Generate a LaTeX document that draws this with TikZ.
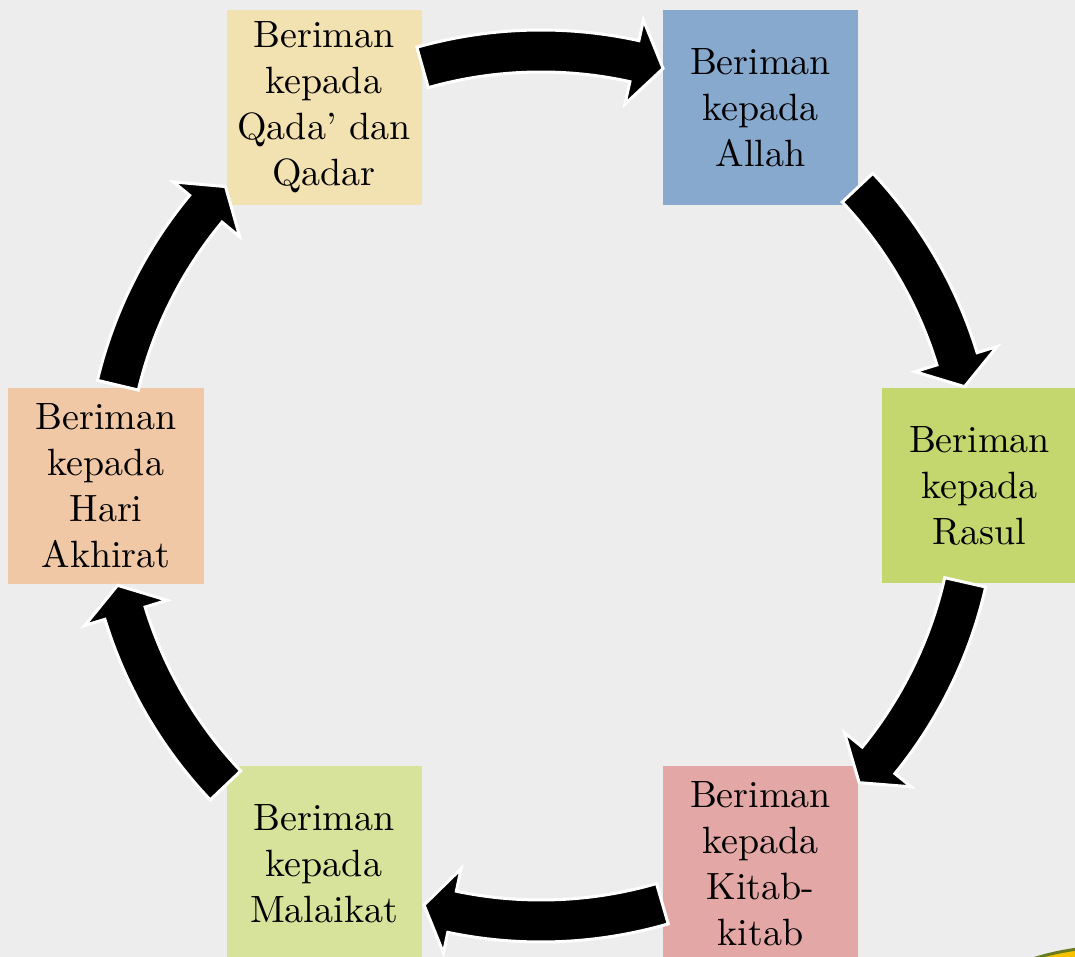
\documentclass[tikz,border=0pt]{standalone}
\usepackage{fontspec}
\newfontfamily\boxfont{lmroman10-regular.otf}
\definecolor{bgc}{RGB}{237,237,237}
\definecolor{cqada}{RGB}{242,225,177}
\definecolor{callah}{RGB}{136,169,206}
\definecolor{crasul}{RGB}{195,215,110}
\definecolor{ckitab}{RGB}{227,168,165}
\definecolor{cmalaikat}{RGB}{215,227,155}
\definecolor{cakhirat}{RGB}{240,200,166}
\definecolor{logoyellow}{RGB}{246,194,0}
\definecolor{logogreen}{RGB}{107,122,31}
\newcommand\cyclearrow[3]{%
  \filldraw[cyclearrowstyle] (#1:456pt) arc[start angle=#1, end angle=#2, radius=456pt]
    -- (#2:477pt) -- (#3:435pt) -- (#2:391pt) -- (#2:414pt)
    arc[start angle=#2, end angle=#1, radius=414pt] -- cycle;}
\tikzset{
  cyclearrowstyle/.style={fill=black, draw=white, line width=3pt, line join=miter},
  pillarbox/.style={minimum width=195pt, minimum height=195pt, inner sep=0pt,
    align=center, text=black, font=\boxfont\fontsize{38}{46}\selectfont},
}
\begin{document}
\begin{tikzpicture}[x=1pt,y=1pt]
\useasboundingbox (0,0) rectangle (1075,957);
\clip (0,0) rectangle (1075,957);
\fill[bgc] (0,0) rectangle (1075,957);
% boxes
\node[pillarbox, fill=cqada] (qada) at (324,849.5) {Beriman\\kepada\\Qada’ dan\\Qadar};
\node[pillarbox, fill=callah] (allah) at (760.5,849.5) {Beriman\\kepada\\Allah};
\node[pillarbox, fill=crasul] (rasul) at (979.5,471) {Beriman\\kepada\\Rasul};
\node[pillarbox, fill=ckitab] (kitab) at (760.5,93.5) {Beriman\\kepada\\Kitab-\\kitab};
\node[pillarbox, fill=cmalaikat] (malaikat) at (324,93.5) {Beriman\\kepada\\Malaikat};
\node[pillarbox, fill=cakhirat, minimum width=196pt, minimum height=196pt] (akhirat) at (106,471) {Beriman\\kepada\\Hari\\Akhirat};
% arrows
\begin{scope}[shift={(541,471)}]
  \cyclearrow{105.8}{77.6}{73.7}
  \cyclearrow{43.3}{17.0}{13.2}
  \cyclearrow{347.2}{320.9}{317.0}
  \cyclearrow{286.2}{258.2}{254.4}
  \cyclearrow{223.5}{197.0}{193.2}
  \cyclearrow{166.6}{140.4}{136.5}
\end{scope}
% logo corner
\filldraw[fill=logoyellow, draw=logogreen, line width=3pt] (1110,-243) circle[radius=253];
\end{tikzpicture}
\end{document}
